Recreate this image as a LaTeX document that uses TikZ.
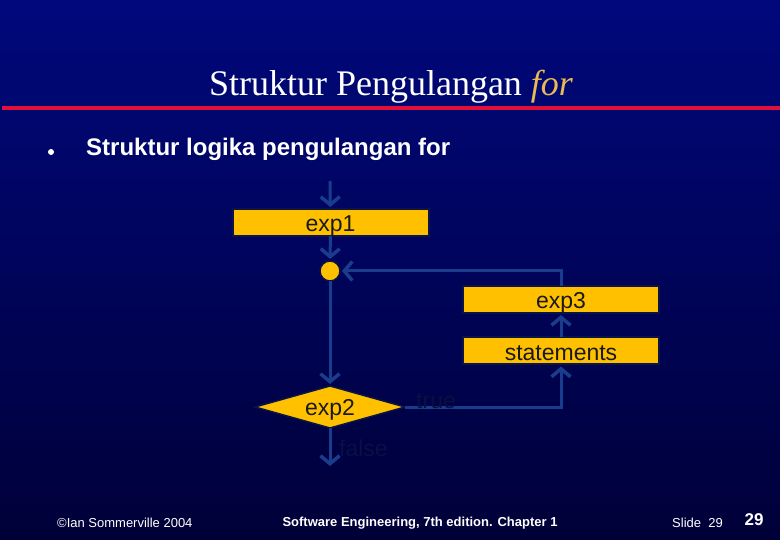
\documentclass[tikz,border=0pt]{standalone}
\usepackage{fontspec}
\setmainfont{Liberation Sans}
\newfontfamily\timesfont{Liberation Serif}
\usetikzlibrary{shapes.geometric,arrows.meta}
\definecolor{bgtop}{RGB}{0,8,124}
\definecolor{bgmid}{RGB}{0,8,108}
\definecolor{bgbot}{RGB}{0,0,56}
\definecolor{linered}{RGB}{224,16,60}
\definecolor{gold}{RGB}{255,192,0}
\definecolor{titlegold}{RGB}{232,186,84}
\definecolor{conncol}{RGB}{26,60,140}
\definecolor{boxedge}{RGB}{10,20,70}
\definecolor{labcol}{RGB}{8,16,66}
\begin{document}
\begin{tikzpicture}[x=1pt,y=-1pt,
  box/.style={draw=boxedge,line width=2pt,fill=gold,minimum width=196pt,minimum height=27pt,inner sep=0pt,outer sep=0pt,text=black!90,text height=21pt,text depth=3pt,font=\fontsize{23}{26}\selectfont},
  decision/.style={diamond,draw=boxedge,line width=1.5pt,fill=gold,aspect=3.6,minimum width=150pt,minimum height=42pt,inner sep=0pt,outer sep=0pt,text=black!90,text height=19pt,text depth=3pt,font=\fontsize{23}{26}\selectfont},
  joint/.style={circle,draw=boxedge,line width=1.5pt,fill=gold,minimum size=20pt,inner sep=0pt,outer sep=0pt},
  conn/.style={draw=conncol,line width=3pt,shorten >=2pt,-{Straight Barb[length=8pt,width=19pt,line width=3.5pt]}},
  lab/.style={text=labcol,font=\fontsize{23}{26}\selectfont,inner sep=0pt},
  foot/.style={text=white,font=\fontsize{13}{15}\selectfont,inner sep=0pt}]
\useasboundingbox (0,0) rectangle (780,540);
\fill[top color=bgtop,middle color=bgmid,bottom color=bgbot] (0,0) rectangle (780,540);
% title
\node[text=white,font=\timesfont\fontsize{36}{40}\selectfont,inner sep=0pt,anchor=base] (title) at (391,96) {Struktur Pengulangan \textcolor{titlegold}{\itshape for}};
\fill[linered] (2,106) rectangle (780,110);
% bullet
\fill[white] (51,152) circle (3pt);
\node[text=white,font=\bfseries\fontsize{24}{28}\selectfont,inner sep=0pt,anchor=base west] (sub) at (86,156) {Struktur logika pengulangan for};
% flowchart
\node[box] (e1) at (330.5,222.5) {exp1};
\node[joint] (dot) at (330,271) {};
\node[box] (e3) at (561,299.5) {exp3};
\node[box] (st) at (561,351) {statements};
\node[decision] (d) at (330,407) {exp2};
\coordinate (in) at (330,181);
\coordinate (out) at (330,468);
\draw[conn] (in) -- (e1);
\draw[conn] (e1) -- (dot);
\draw[conn] (dot) -- (d);
\draw[conn] (d.east) -| (st.south);
\draw[conn] (st) -- (e3);
\draw[conn] (e3.north) |- (dot);
\draw[conn] (d.south) -- (out);
\node[lab,anchor=base west] (tlab) at (416,409) {true};
\node[lab,anchor=base west] (flab) at (339,456) {false};
% footer
\node[foot,anchor=west] (f1) at (57,523) {\textcopyright Ian Sommerville 2004};
\node[foot,anchor=center,font=\bfseries\fontsize{13}{15}\selectfont] (f2) at (420,523) {Software Engineering, 7th edition. Chapter 1};
\node[foot,anchor=west] (f3) at (672,523) {Slide\ \ 29};
\node[foot,anchor=center,font=\bfseries\fontsize{17}{19}\selectfont] (f4) at (754,520) {29};
\end{tikzpicture}
\end{document}
